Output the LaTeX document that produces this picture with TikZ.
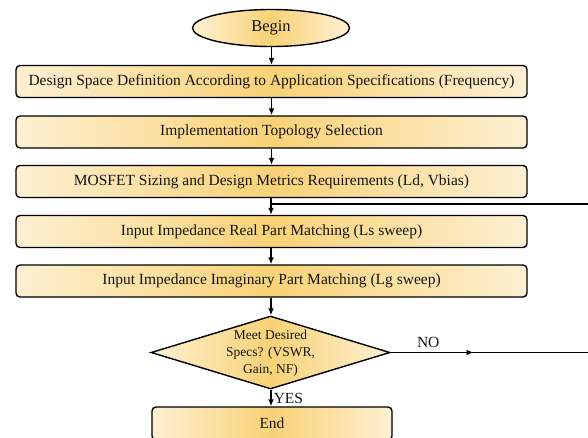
\documentclass[tikz,border=0pt]{standalone}
\usepackage{fontspec}
\setmainfont{Liberation Serif}
\usetikzlibrary{shapes.geometric,arrows.meta,decorations.markings}

\definecolor{boxedge}{HTML}{FDF0D3}
\definecolor{boxmid}{HTML}{F9D276}
\definecolor{inkcol}{HTML}{141414}

\tikzset{
  goldfill/.style={shading=axis, left color=boxedge, right color=boxedge, middle color=boxmid},
  stepbox/.style={draw=black, line width=1.4pt, rounded corners=4pt, goldfill,
    minimum width=511pt, minimum height=32pt, inner sep=0pt,
    font=\fontsize{15.5}{16}\selectfont, text=inkcol},
  termbox/.style={draw=black, line width=1.4pt, ellipse, goldfill,
    minimum width=157pt, minimum height=37pt, inner sep=0pt,
    font=\fontsize{16.5}{16}\selectfont, text=inkcol},
  decision/.style={draw=black, line width=1.4pt, diamond, goldfill,
    minimum width=239pt, minimum height=73pt, inner sep=0pt},
  decisiontext/.style={align=center, inner sep=0pt,
    font=\fontsize{13.5}{17}\selectfont, text=inkcol},
  flow/.style={line width=1.6pt, -{Latex[length=7pt,width=6pt]}},
  plain/.style={line width=1.6pt},
  midarrow/.style={postaction={decorate}, decoration={markings,
    mark=at position #1 with {\arrow{Latex[length=7pt,width=6pt]}}}},
  lbl/.style={font=\fontsize{15.5}{16}\selectfont, text=inkcol, inner sep=0pt},
}

\begin{document}
\begin{tikzpicture}[x=1pt,y=-1pt]
  \clip (0,0) rectangle (588,437);
  \fill[white] (0,0) rectangle (588,437);

  % process chain
  \node[termbox] (begin) at (271,28) {Begin};
  \node[stepbox] (s1) at (271.5,81.5) {Design Space Definition According to Application Specifications (Frequency)};
  \node[stepbox] (s2) at (271.5,132) {Implementation Topology Selection};
  \node[stepbox] (s3) at (271.5,181.5) {MOSFET Sizing and Design Metrics Requirements (Ld, Vbias)};
  \node[stepbox] (s4) at (271.5,231.5) {Input Impedance Real Part Matching (Ls sweep)};
  \node[stepbox] (s5) at (271.5,281) {Input Impedance Imaginary Part Matching (Lg sweep)};
  \node[decision,
        label={[decisiontext, yshift=-1pt]center:Meet Desired\\Specs? (VSWR,\\Gain, NF)}]
        (check) at (270.5,352.5) {};
  \node[stepbox, minimum width=240pt, minimum height=33pt] (finish) at (272,423.5) {End};

  % loose ends of the feedback lines
  \coordinate (ret) at (588,204);
  \coordinate (noend) at (588,352.5);
  \coordinate (join) at (271,204);

  % connectors
  \draw[flow] (begin.south -| s1.north) -- (s1.north);
  \draw[flow] (s1) -- (s2);
  \draw[flow] (s2) -- (s3);
  \draw[flow] (s3.south -| join) -- (s4.north -| join);
  \draw[plain] (ret) -- (join);
  \draw[flow] (s4.south -| join) -- (s5.north -| join);
  \draw[flow] (s5.south -| join) -- (check.north -| join);
  \draw[flow] (check.south -| join) -- (finish.north -| join)
    node[lbl, pos=0.5, right=2pt] {YES};
  \draw[plain, midarrow=0.42] (check.east) -- (noend)
    node[lbl, pos=0.19, above=4pt] {NO};
\end{tikzpicture}
\end{document}
